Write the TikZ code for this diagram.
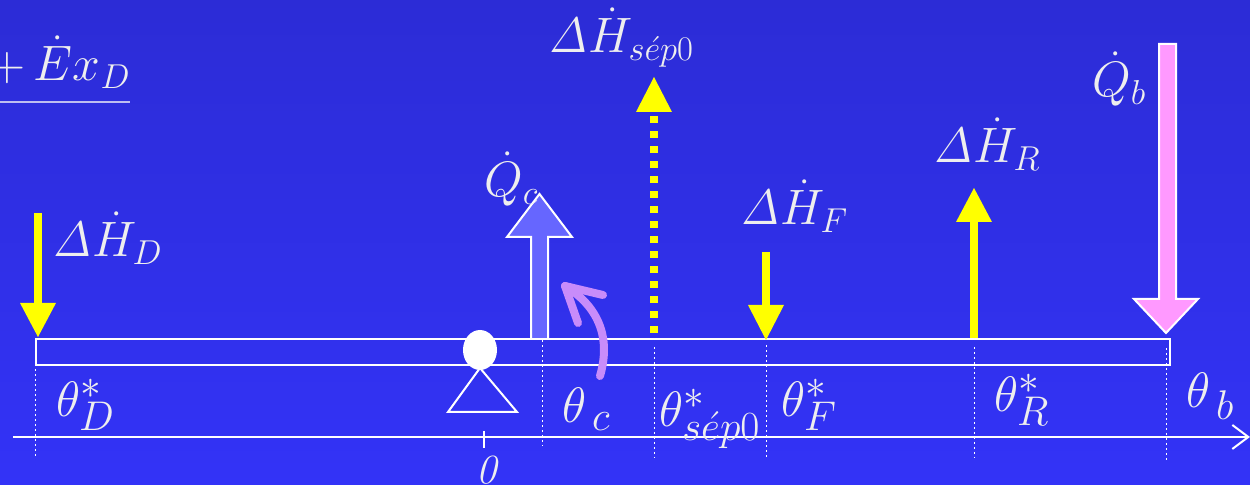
\documentclass[tikz,border=0pt]{standalone}
\usetikzlibrary{arrows.meta,shapes.geometric}
\definecolor{bgtop}{RGB}{44,44,214}
\definecolor{bgbot}{RGB}{51,51,247}
\definecolor{txt}{RGB}{238,238,238}
\definecolor{ylw}{RGB}{255,255,0}
\definecolor{qcfill}{RGB}{102,102,255}
\definecolor{qbfill}{RGB}{255,153,255}
\definecolor{violet}{RGB}{200,140,250}
\begin{document}
\begin{tikzpicture}[x=0.5pt,y=-0.5pt,
  lbl/.style={text=txt,font=\fontsize{24}{28}\selectfont,inner sep=0pt,anchor=base west},
  tlbl/.style={text=txt,font=\fontsize{28}{32}\selectfont,inner sep=0pt,anchor=base west},
  yshaft/.style={draw=ylw,line width=4pt},
  yhead/.style={fill=ylw,draw=none},
  guide/.style={draw=white,line width=0.5pt,dash pattern=on 1pt off 1.5pt},
  block/.style={draw=white,line width=1pt,line join=miter},
  wline/.style={draw=white,line width=1pt}]
\path[use as bounding box,top color=bgtop,bottom color=bgbot] (0,0) rectangle (1250,485);

% top-left fraction (cut at the left)
\node[lbl,anchor=base east] (frac) at (131,81) {$\dot{E}x_R\,{+}\,\dot{E}x_D$};
\draw[wline,draw=txt!80!blue] (0,102) -- (130,102);

% beam and axis
\node[draw=white,line width=1pt,minimum width=567pt,minimum height=13pt,inner sep=0,anchor=north west] (beam) at (35,338) {};
\coordinate (ax0) at (13,437);
\coordinate (ax1) at (1250,437);
\draw[wline,-{Straight Barb[length=8pt,width=12pt,line width=1pt]}] (ax0) -- (ax1);
\coordinate (tk0) at (484,431);
\coordinate (tk1) at (484,448);
\draw[wline] (tk0) -- (tk1);
\node[text=txt,font=\fontsize{22}{26}\selectfont,inner sep=0pt,anchor=north] (zero) at (489,456) {$\mathit{0}$};

% dotted guides
\foreach \n/\x/\a/\b in {gD/35/364/456, gc/542/340/446, gs/654/347/458, gF/766/345/458, gR/974/347/458, gb/1166/348/461}{
  \coordinate (\n a) at (\x,\a);
  \coordinate (\n b) at (\x,\b);
  \draw[guide] (\n a) -- (\n b);
}

% pivot
\draw[wline] (480,368) -- (448,412) -- (517,412) -- cycle;
\node[fill=white,ellipse,minimum width=17pt,minimum height=20pt,inner sep=0,draw=none] (pin) at (480,350) {};

% Delta H_D arrow (down)
\coordinate (dDt) at (38,213);
\coordinate (dDh) at (38,304);
\draw[yshaft] (dDt) -- (dDh);
\fill[yhead] (20,303) -- (56,303) -- (38,337) -- cycle;
\node[lbl] (lD) at (52,257) {$\mathit{\Delta}\dot{H}_{D}$};

% Q_c block arrow (up)
\draw[block,fill=qcfill] (531,338) -- (531,237) -- (507,237) -- (539.5,194) -- (572,237) -- (548,237) -- (548,338);
\node[lbl] (lQc) at (484,197) {$\dot{Q}_{c}$};

% Delta H sep0 (dotted, up)
\coordinate (dSb) at (654,333);
\coordinate (dSt) at (654,113);
\draw[yshaft,dash pattern=on 3.5pt off 4pt] (dSb) -- (dSt);
\fill[yhead] (636,112) -- (672,112) -- (654,77) -- cycle;
\node[lbl] (lS) at (548,53) {$\mathit{\Delta}\dot{H}_{s\acute{e}p0}$};

% Delta H_F (down)
\coordinate (dFt) at (766,252);
\coordinate (dFh) at (766,306);
\draw[yshaft] (dFt) -- (dFh);
\fill[yhead] (748,305) -- (784,305) -- (766,340) -- cycle;
\node[lbl] (lF) at (740,225) {$\mathit{\Delta}\dot{H}_{F}$};

% Delta H_R (up)
\coordinate (dRb) at (974,338);
\coordinate (dRt) at (974,221);
\draw[yshaft] (dRb) -- (dRt);
\fill[yhead] (956,222) -- (992,222) -- (974,188) -- cycle;
\node[lbl] (lR) at (933,163) {$\mathit{\Delta}\dot{H}_{R}$};

% Q_b block arrow (down)
\draw[block,fill=qbfill] (1159,44) -- (1159,299) -- (1134,299) -- (1166,333) -- (1198,299) -- (1176,299) -- (1176,44) -- cycle;
\node[lbl] (lQb) at (1092,97) {$\dot{Q}_{b}$};

% curved violet arrow
\coordinate (cv0) at (600,376);
\coordinate (cv1) at (565,286);
\draw[violet,line width=4pt,line cap=round] (cv0) .. controls (612,335) and (596,305) .. (cv1);
\draw[violet,line width=4pt,line cap=round,line join=round] (603,295) -- (cv1) -- (578,323);

% theta labels
\node[tlbl] (tD) at (56,417) {$\theta^{*}_{D}$};
\node[tlbl] (tc) at (562,423) {$\theta_{\,c}$};
\node[tlbl] (ts) at (659,427) {$\theta^{*}_{s\acute{e}p0}$};
\node[tlbl] (tF) at (781,417) {$\theta^{*}_{F}$};
\node[tlbl] (tR) at (994,412) {$\theta^{*}_{R}$};
\node[tlbl] (tb) at (1186,408) {$\theta_{\,b}$};
\end{tikzpicture}
\end{document}
